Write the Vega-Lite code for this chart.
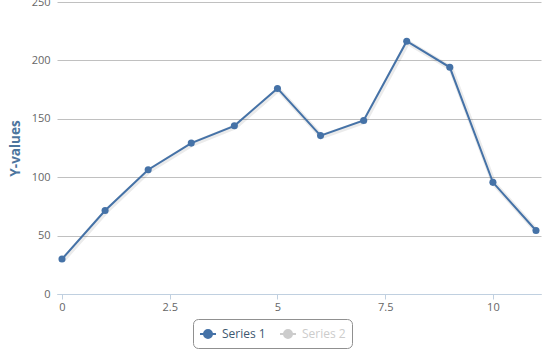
{
  "$schema": "https://vega.github.io/schema/vega-lite/v6.json",
  "width": 484,
  "height": 292,
  "autosize": {"type": "none"},
  "padding": {"left": 57, "top": 2, "right": 9, "bottom": 58},
  "background": "white",
  "config": {
    "view": {"stroke": null},
    "font": "Open Sans"
  },
  "title": {
    "text": "Highcharts.com",
    "orient": "bottom",
    "anchor": "end",
    "fontSize": 9,
    "fontWeight": "normal",
    "color": "#909090",
    "offset": 38
  },
  "data": {
    "values": [
      {"x": 0, "y": 29.9, "series": "Series 1"},
      {"x": 1, "y": 71.5, "series": "Series 1"},
      {"x": 2, "y": 106.4, "series": "Series 1"},
      {"x": 3, "y": 129.2, "series": "Series 1"},
      {"x": 4, "y": 144.0, "series": "Series 1"},
      {"x": 5, "y": 176.0, "series": "Series 1"},
      {"x": 6, "y": 135.6, "series": "Series 1"},
      {"x": 7, "y": 148.5, "series": "Series 1"},
      {"x": 8, "y": 216.4, "series": "Series 1"},
      {"x": 9, "y": 194.1, "series": "Series 1"},
      {"x": 10, "y": 95.6, "series": "Series 1"},
      {"x": 11, "y": 54.4, "series": "Series 1"}
    ]
  },
  "encoding": {
    "x": {
      "field": "x",
      "type": "quantitative",
      "scale": {"domain": [-0.116, 11.116], "nice": false, "zero": false},
      "axis": {
        "title": null,
        "values": [0, 2.5, 5, 7.5, 10],
        "format": ".1~f",
        "grid": false,
        "domainColor": "#C0D0E0",
        "tickColor": "#C0D0E0",
        "tickSize": 5,
        "labelColor": "#666666",
        "labelFontSize": 11,
        "labelPadding": 2,
        "labelFlush": false
      }
    },
    "y": {
      "field": "y",
      "type": "quantitative",
      "scale": {"domain": [0, 250], "nice": false},
      "axis": {
        "title": "Y-values",
        "values": [0, 50, 100, 150, 200, 250],
        "domain": false,
        "ticks": false,
        "gridColor": "#C0C0C0",
        "gridWidth": 1,
        "labelColor": "#666666",
        "labelFontSize": 11,
        "labelPadding": 7,
        "labelFlush": false,
        "titleColor": "#4D759E",
        "titleFontSize": 13.5,
        "titleFontWeight": "bold",
        "titleX": -42,
        "titleY": 146,
        "titleAngle": -90,
        "titleAlign": "center",
        "titleBaseline": "middle"
      }
    }
  },
  "layer": [
    {
      "mark": {"type": "line", "stroke": "#000000", "strokeOpacity": 0.08, "strokeWidth": 5, "xOffset": 1, "yOffset": 1, "interpolate": "linear"},
      "encoding": {}
    },
    {
      "mark": {"type": "line", "stroke": "#4572A7", "strokeWidth": 2, "interpolate": "linear"},
      "encoding": {}
    },
    {
      "mark": {"type": "point", "filled": true, "opacity": 1, "size": 50},
      "encoding": {
        "color": {
          "field": "series",
          "type": "nominal",
          "scale": {"domain": ["Series 1", "Series 2"], "range": ["#4572A7", "#CCCCCC"]},
          "legend": {
            "title": null,
            "orient": "none",
            "legendX": 136,
            "legendY": 317,
            "direction": "horizontal",
            "symbolType": "M-1,0L1,0M0.5,0A0.5,0.5 0 1 1 -0.5,0A0.5,0.5 0 1 1 0.5,0",
            "symbolSize": 256,
            "symbolStrokeWidth": 2,
            "symbolOpacity": 1,
            "labelFontSize": 12,
            "labelColor": "#3E576F",
            "labelOffset": 5,
            "columnPadding": 10,
            "padding": 6,
            "strokeColor": "#909090",
            "cornerRadius": 5,
            "encode": {
              "labels": {"update": {"fill": {"signal": "datum.value === 'Series 2' ? '#CCCCCC' : '#3E576F'"}}},
              "symbols": {"update": {
                "stroke": {"signal": "datum.value === 'Series 2' ? '#CCCCCC' : '#4572A7'"},
                "fill": {"signal": "datum.value === 'Series 2' ? '#CCCCCC' : '#4572A7'"},
                "strokeWidth": {"value": 2},
                "opacity": {"value": 1}
              }}
            }
          }
        }
      }
    }
  ]
}
